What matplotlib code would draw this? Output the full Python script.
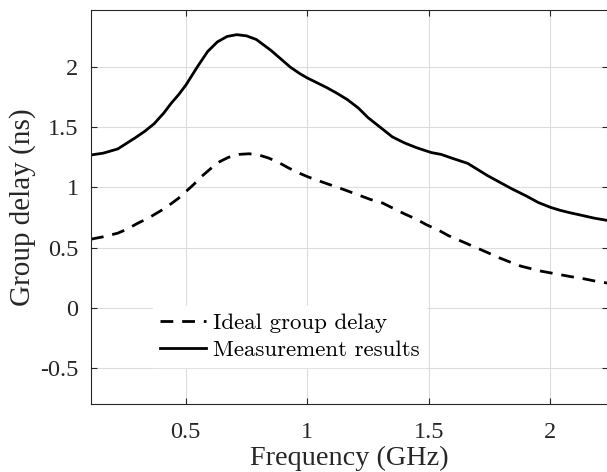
import matplotlib
matplotlib.use("Agg")
import matplotlib.pyplot as plt

freq_meas = [0.11, 0.16, 0.22, 0.29, 0.33, 0.37, 0.41, 0.44, 0.47, 0.50, 0.55, 0.59, 0.63, 0.67,
             0.71, 0.75, 0.79, 0.85, 0.89, 0.93, 0.97, 1.00, 1.04, 1.08, 1.12, 1.165, 1.21, 1.25,
             1.30, 1.35, 1.40, 1.45, 1.51, 1.55, 1.60, 1.66, 1.70, 1.74, 1.79, 1.84, 1.90, 1.95,
             2.00, 2.04, 2.08, 2.125, 2.18, 2.237]
delay_meas = [1.27, 1.285, 1.32, 1.41, 1.465, 1.53, 1.62, 1.70, 1.77, 1.85, 2.01, 2.13, 2.21, 2.255,
              2.27, 2.26, 2.23, 2.14, 2.07, 2.00, 1.945, 1.91, 1.87, 1.83, 1.785, 1.73, 1.66, 1.58,
              1.50, 1.42, 1.37, 1.33, 1.29, 1.275, 1.24, 1.20, 1.15, 1.10, 1.045, 0.99, 0.93, 0.875,
              0.835, 0.81, 0.79, 0.77, 0.745, 0.725]

freq_ideal = [0.11, 0.16, 0.22, 0.26, 0.30, 0.35, 0.40, 0.44, 0.47, 0.53, 0.57, 0.61, 0.64, 0.675,
              0.72, 0.76, 0.80, 0.84, 0.88, 0.92, 0.96, 1.00, 1.04, 1.09, 1.14, 1.18, 1.22, 1.26,
              1.31, 1.35, 1.40, 1.45, 1.49, 1.54, 1.58, 1.62, 1.66, 1.70, 1.74, 1.79, 1.84, 1.88,
              1.91, 1.96, 2.00, 2.04, 2.08, 2.14, 2.20, 2.237]
delay_ideal = [0.57, 0.59, 0.62, 0.655, 0.70, 0.75, 0.81, 0.865, 0.91, 1.02, 1.10, 1.17, 1.215, 1.25,
               1.275, 1.28, 1.27, 1.245, 1.21, 1.165, 1.125, 1.09, 1.06, 1.025, 0.99, 0.96, 0.93, 0.90,
               0.87, 0.83, 0.78, 0.735, 0.69, 0.645, 0.60, 0.565, 0.53, 0.495, 0.46, 0.415, 0.375, 0.345,
               0.33, 0.305, 0.29, 0.275, 0.26, 0.24, 0.215, 0.205]

xticks = [0.5, 1, 1.5, 2]
xtick_labels = ["0.5", "1", "1.5", "2"]
yticks = [-0.5, 0, 0.5, 1, 1.5, 2]
ytick_labels = ["-0.5", "0", "0.5", "1", "1.5", "2"]

plt.rcParams['axes.unicode_minus'] = False
serif = ['Liberation Serif', 'DejaVu Serif']

fig = plt.figure(figsize=(6.07, 4.72), dpi=100)
ax = fig.add_axes([91/607, 68/472, 517/607, 394/472])

ax.plot(freq_ideal, delay_ideal, color='black', lw=2.0, dashes=(4.6, 3.2),
        label='Ideal group delay')
ax.plot(freq_meas, delay_meas, color='black', lw=2.0, label='Measurement results')

ax.set_xlim(0.11, 2.237)
ax.set_ylim(-0.8, 2.475)
ax.set_xticks(xticks)
ax.set_xticklabels(xtick_labels, family=serif, fontsize=17.5)
ax.set_yticks(yticks)
ax.set_yticklabels(ytick_labels, family=serif, fontsize=17.5)
ax.tick_params(direction='in', length=4, width=0.8, colors='#262626', top=True, right=True,
               labelcolor='#262626')
ax.tick_params(axis='x', pad=13)
ax.tick_params(axis='y', pad=9)
ax.grid(True, color='#dcdcdc', lw=0.8)
for s in ax.spines.values():
    s.set_color('#262626')
    s.set_linewidth(0.8)

ax.set_xlabel('Frequency (GHz)', family=serif, fontsize=20.3, color='#262626', labelpad=2)
ax.set_ylabel('Group delay (ns)', family=serif, fontsize=21, color='#262626', labelpad=3)

leg = ax.legend(loc='lower left', bbox_to_anchor=(0.12, 0.094), frameon=True, fancybox=False,
                prop={'family': 'cmr10', 'size': 16.5}, handlelength=2.0, handletextpad=0.3,
                labelspacing=0.3, borderpad=0.3, borderaxespad=0)
leg.get_frame().set_edgecolor('white')
leg.get_frame().set_facecolor('white')
leg.get_frame().set_alpha(1)

fig.savefig('out.png', dpi=100)
